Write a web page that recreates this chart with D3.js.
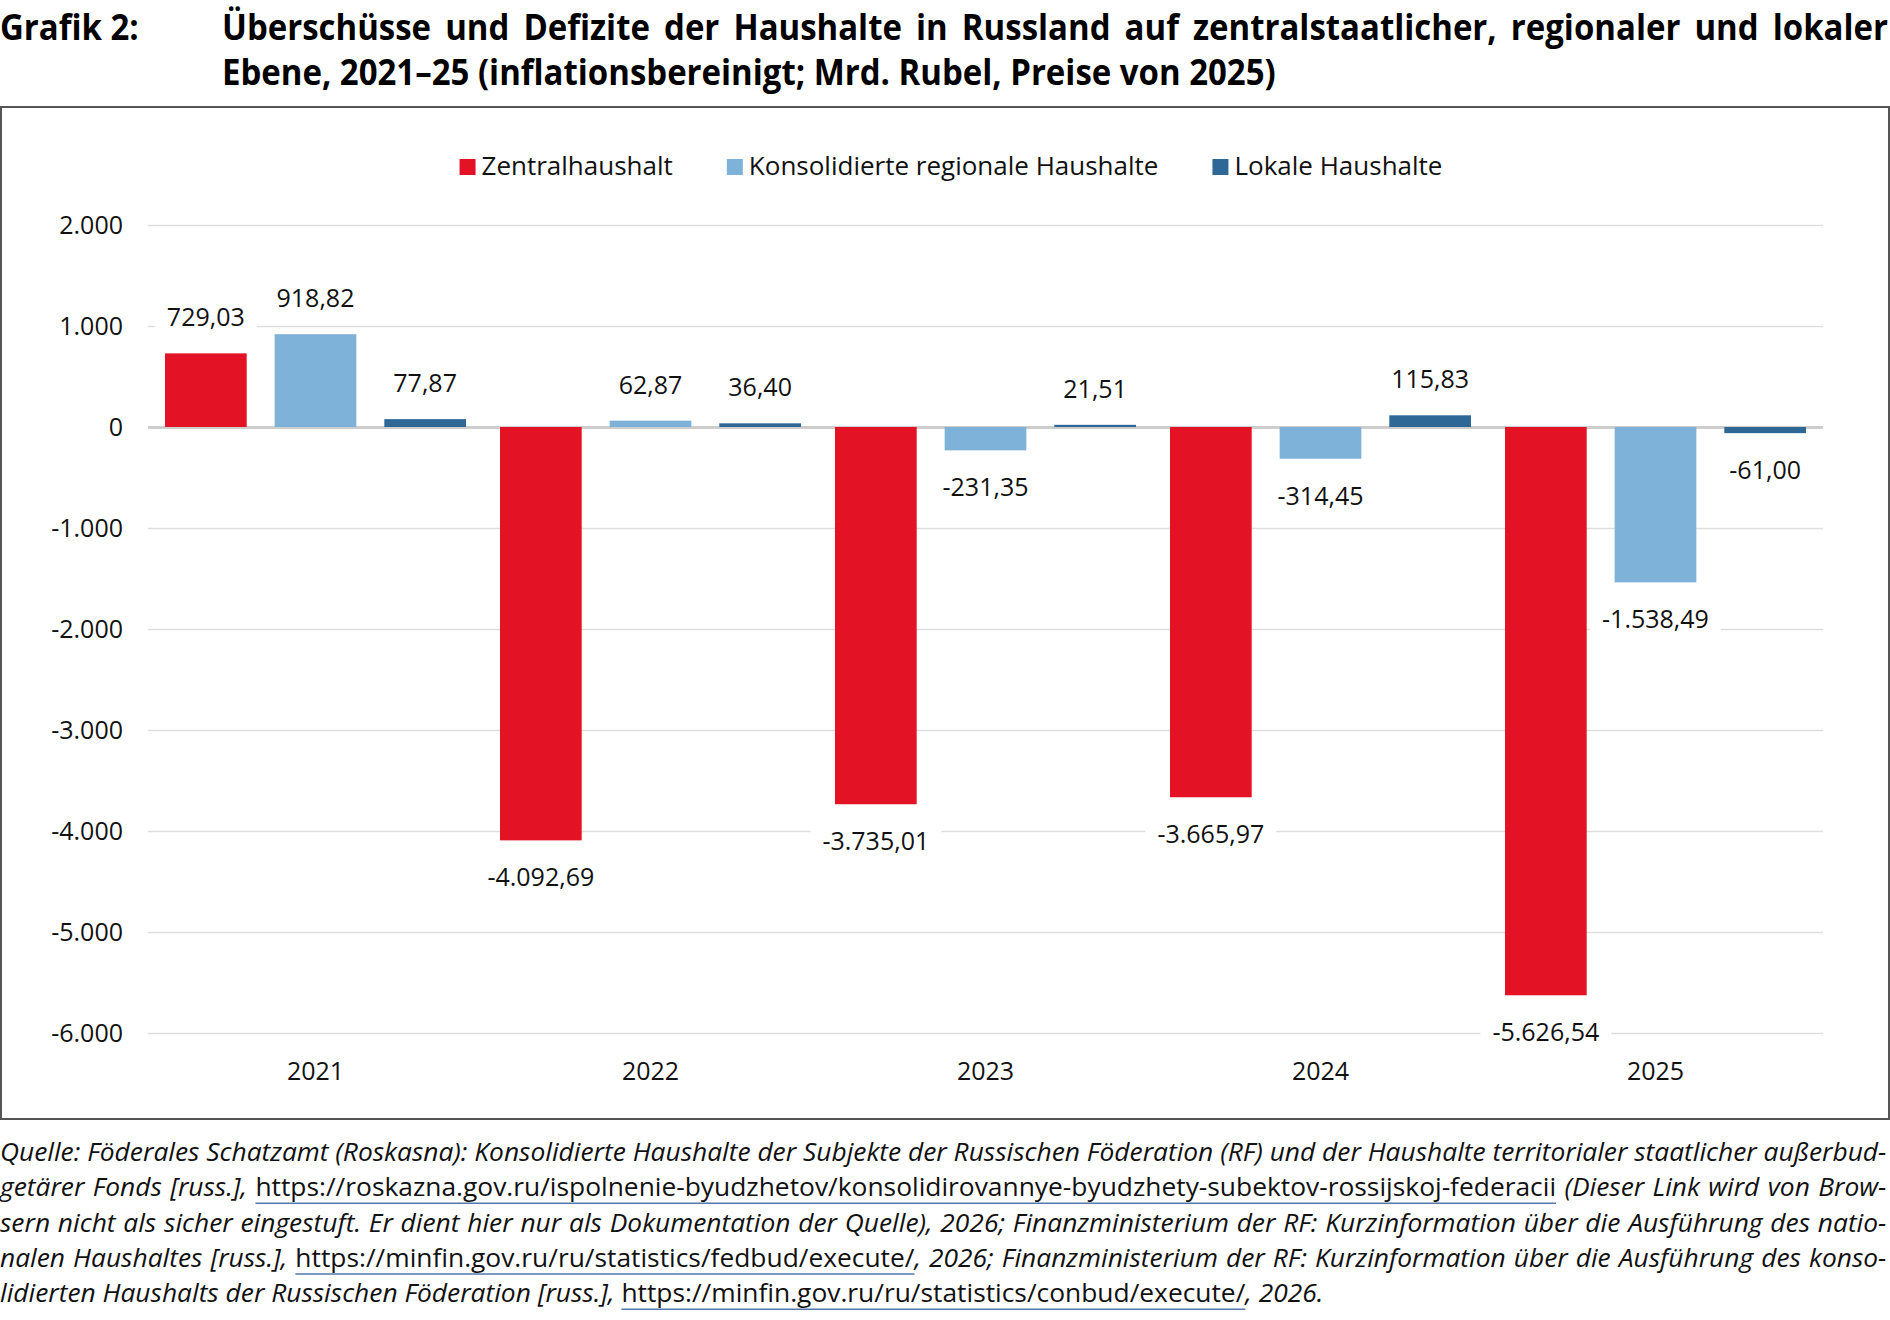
<!DOCTYPE html>
<html>
<head>
<meta charset="utf-8">
<title>Grafik 2</title>
<script type="text/javascript" src="https://d3js.org/d3.v7.min.js"></script>
<style>
    * { margin: 0; padding: 0; }
    body { background: #fff; }
    svg { display: block; font-family: "Open Sans", "Noto Sans", sans-serif; }
</style>
</head>
<body>
<div id="chart"></div>
<script type="text/javascript">

    // Daten (Mrd. Rubel, Preise von 2025)
    const years = ["2021", "2022", "2023", "2024", "2025"];
    const seriesNames = ["Zentralhaushalt", "Konsolidierte regionale Haushalte", "Lokale Haushalte"];
    const seriesColors = ["#e31225", "#7fb2d9", "#2e6896"];
    const zentral = [729.03, -4092.69, -3735.01, -3665.97, -5626.54];
    const regional = [918.82, 62.87, -231.35, -314.45, -1538.49];
    const lokal = [77.87, 36.40, 21.51, 115.83, -61.00];
    const yTicks = [2000, 1000, 0, -1000, -2000, -3000, -4000, -5000, -6000];

    const titleLabel = "Grafik 2:";
    const titleLines = [
        "Überschüsse und Defizite der Haushalte in Russland auf zentralstaatlicher, regionaler und lokaler",
        "Ebene, 2021–25 (inflationsbereinigt; Mrd. Rubel, Preise von 2025)"
    ];

    // Quelle: Segmente je Zeile, u = Link (aufrecht, unterstrichen)
    const sourceLines = [
        [{ t: "Quelle: Föderales Schatzamt (Roskasna): Konsolidierte Haushalte der Subjekte der Russischen Föderation (RF) und der Haushalte territorialer staatlicher außerbud-" }],
        [{ t: "getärer Fonds [russ.], " },
         { t: "https://roskazna.gov.ru/ispolnenie-byudzhetov/konsolidirovannye-byudzhety-subektov-rossijskoj-federacii", u: true },
         { t: " (Dieser Link wird von Brow-" }],
        [{ t: "sern nicht als sicher eingestuft. Er dient hier nur als Dokumentation der Quelle), 2026; Finanzministerium der RF: Kurzinformation über die Ausführung des natio-" }],
        [{ t: "nalen Haushaltes [russ.], " },
         { t: "https://minfin.gov.ru/ru/statistics/fedbud/execute/", u: true },
         { t: ", 2026; Finanzministerium der RF: Kurzinformation über die Ausführung des konso-" }],
        [{ t: "lidierten Haushalts der Russischen Föderation [russ.], " },
         { t: "https://minfin.gov.ru/ru/statistics/conbud/execute/", u: true },
         { t: ", 2026." }]
    ];

    const W = 1890, H = 1320;
    const plot = { left: 148, right: 1823, top: 225, bottom: 1033 };

    const de = d3.formatLocale({ decimal: ",", thousands: ".", grouping: [3], currency: ["", " €"], minus: "-" });
    const fmtTick = de.format(",.0f");
    const fmtVal = de.format(",.2f");

    const svg = d3.select("#chart").append("svg")
        .attr("width", W).attr("height", H)
        .attr("viewBox", `0 0 ${W} ${H}`);

    // Titel
    const tg = svg.append("g").attr("font-weight", 700).attr("font-size", 35).attr("fill", "#000");
    const tLabel = tg.append("text").attr("x", 0).attr("y", 40).text(titleLabel);
    const t1 = tg.append("text").attr("x", 0).attr("y", 40).text(titleLines[0]);
    const t2 = tg.append("text").attr("x", 0).attr("y", 85).text(titleLines[1]);
    const kTitle = 1054 / t2.node().getComputedTextLength();
    tLabel.attr("transform", `scale(${kTitle},1)`);
    t1.attr("transform", `translate(222,0) scale(${kTitle},1)`);
    t2.attr("transform", `translate(222,0) scale(${kTitle},1)`);
    {
        const w1 = t1.node().getComputedTextLength();
        const spaces = titleLines[0].split(" ").length - 1;
        t1.attr("word-spacing", ((1666 / kTitle) - w1) / spaces);
    }

    // Rahmen
    svg.append("rect")
        .attr("x", 1).attr("y", 107).attr("width", W - 2).attr("height", 1012)
        .attr("fill", "none").attr("stroke", "#555").attr("stroke-width", 2);

    // Skalen
    const x0 = d3.scaleBand().domain(years).range([plot.left, plot.right]);
    const x1 = d3.scaleBand().domain(d3.range(seriesNames.length))
        .range([17, x0.bandwidth() - 17]).paddingInner(0.255);
    const y = d3.scaleLinear().domain([-6000, 2000]).range([plot.bottom, plot.top]);

    // Y-Achse mit Gitterlinien
    const yAxis = svg.append("g")
        .attr("transform", `translate(${plot.left},0)`)
        .call(d3.axisLeft(y).tickValues(yTicks).tickFormat(fmtTick)
            .tickSizeInner(-(plot.right - plot.left)).tickSizeOuter(0).tickPadding(25));
    yAxis.select(".domain").remove();
    yAxis.selectAll(".tick line")
        .attr("stroke", d => d === 0 ? "#cdcdcd" : "#dedede")
        .attr("stroke-width", d => d === 0 ? 3 : 1.5);
    yAxis.attr("font-family", null);
    yAxis.selectAll(".tick text")
        .attr("font-size", 25).attr("fill", "#111");

    // Balken
    const series = [zentral, regional, lokal];
    const rows = [];
    years.forEach((yr, i) => series.forEach((s, j) => rows.push({ year: yr, s: j, v: s[i] })));

    const bars = svg.append("g");
    bars.selectAll("rect").data(rows).join("rect")
        .attr("x", d => x0(d.year) + x1(d.s))
        .attr("width", x1.bandwidth())
        .attr("y", d => y(Math.max(0, d.v)))
        .attr("height", d => Math.abs(y(d.v) - y(0)))
        .attr("fill", d => seriesColors[d.s]);

    // Datenbeschriftungen mit weißem Hintergrund
    const labels = svg.append("g").attr("font-size", 25).attr("fill", "#111");
    rows.forEach(d => {
        const g = labels.append("g");
        const cx = x0(d.year) + x1(d.s) + x1.bandwidth() / 2;
        const cy = d.v >= 0 ? y(d.v) - 36 : y(d.v) + 37;
        const t = g.append("text")
            .attr("x", cx).attr("y", cy)
            .attr("text-anchor", "middle").attr("dy", "0.36em")
            .text(fmtVal(d.v));
        const bb = t.node().getBBox();
        g.insert("rect", "text")
            .attr("x", bb.x - 12).attr("y", bb.y - 2)
            .attr("width", bb.width + 24).attr("height", bb.height + 4)
            .attr("fill", "#fff");
    });

    // X-Achse
    const xAxis = svg.append("g")
        .attr("transform", "translate(0,1071)")
        .call(d3.axisBottom(x0).tickSize(0).tickPadding(0));
    xAxis.select(".domain").remove();
    xAxis.attr("font-family", null);
    xAxis.selectAll(".tick text")
        .attr("y", 0).attr("dy", "0.36em")
        .attr("font-size", 25).attr("fill", "#111");

    // Legende
    const leg = svg.append("g").attr("font-size", 26).attr("fill", "#111");
    let lx = 0;
    const legGap = 54;
    seriesNames.forEach((name, j) => {
        const g = leg.append("g").attr("transform", `translate(${lx},0)`);
        g.append("rect").attr("x", 0).attr("y", 159).attr("width", 16).attr("height", 16)
            .attr("fill", seriesColors[j]);
        const t = g.append("text").attr("x", 22).attr("y", 175).text(name);
        lx += 22 + t.node().getComputedTextLength() + legGap;
    });
    leg.attr("transform", `translate(${951 - (lx - legGap) / 2},0)`);

    // Quelle
    const src = svg.append("g").attr("font-size", 26).attr("fill", "#111");
    const srcTexts = sourceLines.map((line, i) => {
        const t = src.append("text").attr("x", 0).attr("y", 1161 + i * 35.3);
        line.forEach(seg => {
            t.append("tspan")
                .attr("font-style", seg.u ? "normal" : "italic")
                .attr("data-u", seg.u ? 1 : 0)
                .text(seg.t);
        });
        return t;
    });
    const widths = srcTexts.map(t => t.node().getComputedTextLength());
    const kSrc = 1887 / d3.max(widths.slice(0, 4));
    srcTexts.forEach((t, i) => {
        t.attr("transform", `scale(${kSrc},1)`);
        if (i < 4) {
            const txt = sourceLines[i].map(s => s.t).join("");
            const spaces = txt.split(" ").length - 1;
            t.attr("word-spacing", ((1887 / kSrc) - widths[i]) / spaces);
        }
        t.selectAll("tspan").each(function () {
            if (this.getAttribute("data-u") !== "1") return;
            const n = this.getNumberOfChars();
            const xa = this.getStartPositionOfChar(0).x;
            const xb = this.getEndPositionOfChar(n - 1).x;
            const yy = 1161 + i * 35.3 + 7;
            src.append("line")
                .attr("x1", xa).attr("x2", xb).attr("y1", yy).attr("y2", yy)
                .attr("transform", `scale(${kSrc},1)`)
                .attr("stroke", "#5577ad").attr("stroke-width", 1.5);
        });
    });
</script>
</body>
</html>
